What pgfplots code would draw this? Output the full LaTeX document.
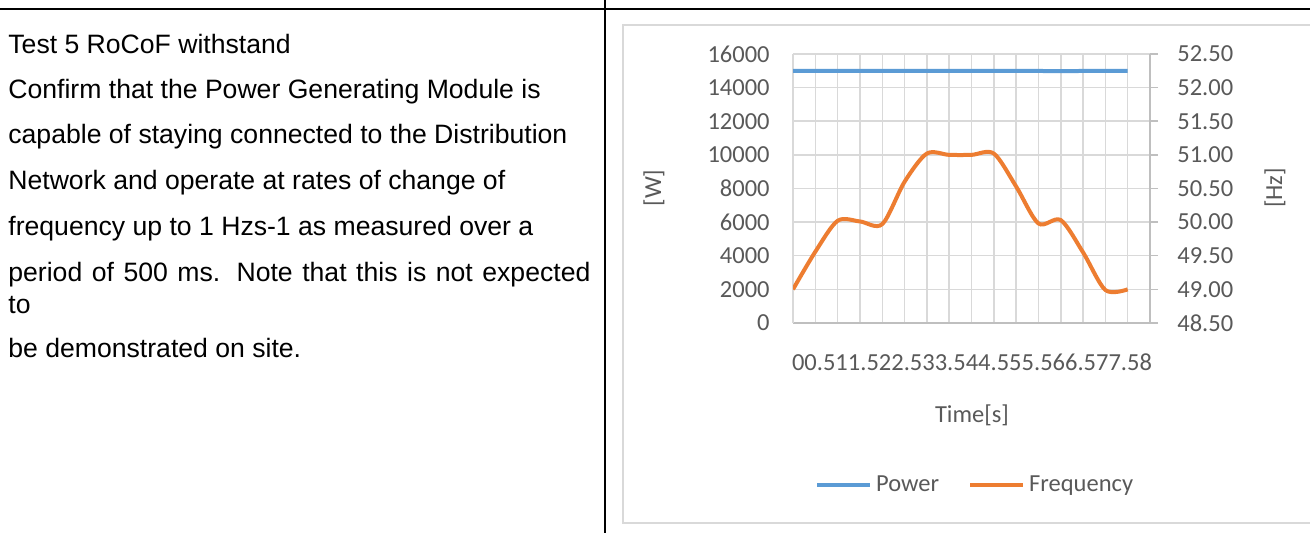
\documentclass[border=0pt]{standalone}
\usepackage{fontspec}
\setmainfont{Liberation Sans}
\newfontfamily\chartfont{Carlito}
\usepackage{pgfplots}
\pgfplotsset{compat=1.18}
\definecolor{cblue}{HTML}{5B9BD5}
\definecolor{corange}{HTML}{ED7D31}
\definecolor{cgrid}{HTML}{D9D9D9}
\definecolor{caxis}{HTML}{BFBFBF}
\definecolor{ctext}{HTML}{595959}
\newcommand{\cf}{\chartfont\fontsize{12.25pt}{14pt}\selectfont}
\newcommand{\lf}{\fontsize{13.3pt}{16pt}\selectfont}
\begin{document}
\begin{tikzpicture}
\useasboundingbox (0,0) rectangle (655pt,266.5pt);
\begin{scope}[x=0.5pt,y=-0.5pt,shift={(0,266.5pt)}]
\draw[line width=1pt] (0,9) -- (1310,9);
\draw[line width=1pt] (605,0) -- (605,533);
\draw[cgrid, line width=0.75pt] (623,25) rectangle (1340,523);
\node[anchor=base west, inner sep=0pt, font=\lf] at (8,53.5) {Test 5 RoCoF withstand};
\node[anchor=base west, inner sep=0pt, font=\lf] at (8,98.5) {Confirm that the Power Generating Module is};
\node[anchor=base west, inner sep=0pt, font=\lf] at (8,144) {capable of staying connected to the Distribution};
\node[anchor=base west, inner sep=0pt, font=\lf] at (8,190) {Network and operate at rates of change of};
\node[anchor=base west, inner sep=0pt, font=\lf] at (8,235.5) {frequency up to 1 Hzs-1 as measured over a};
\node[anchor=base west, inner sep=0pt, font=\lf] at (8,281.5) {\makebox[291pt][s]{period of 500 ms. Note that this is not expected}};
\node[anchor=base west, inner sep=0pt, font=\lf] at (8,314) {to};
\node[anchor=base west, inner sep=0pt, font=\lf] at (8,358) {be demonstrated on site.};
\node[font=\cf, text=ctext] at (972,362) {00.511.522.533.544.555.566.577.58};
\node[font=\cf, text=ctext] at (972,415) {Time[s]};
\node[font=\cf, text=ctext, rotate=90] at (654,188) {[W]};
\node[font=\cf, text=ctext, rotate=90] at (1275,188) {[Hz]};
\end{scope}
\begin{axis}[
  at={(396.5pt,105pt)}, anchor=south west,
  scale only axis, width=178.5pt, height=134.5pt,
  xmin=0, xmax=8, ymin=0, ymax=16000,
  xtick={0,0.5,...,8}, xticklabels={},
  ytick={0,2000,...,16000},
  grid=major, grid style={cgrid, line width=0.75pt},
  axis x line=bottom, axis y line=left,
  x axis line style={caxis, line width=0.75pt, -},
  y axis line style={cgrid, line width=0.75pt, -},
  major tick length=0pt, tick style={draw=none},
  scaled y ticks=false,
  /pgf/number format/assume math mode=true,
  /pgf/number format/1000 sep={},
  yticklabel style={font=\cf, text=ctext, inner sep=0pt, xshift=-11.5pt},
]
\addplot[cblue, line width=2pt] coordinates {
(0,15000) (0.5,15000) (1,15000) (1.5,15000) (2,15000) (2.5,15000) (3,15000) (3.5,15000)
(4,15000) (4.5,15000) (5,15000) (5.5,14990) (6,14980) (6.5,14990) (7,15000) (7.5,15000)};
\end{axis}
\begin{axis}[
  at={(396.5pt,105pt)}, anchor=south west,
  scale only axis, width=178.5pt, height=134.5pt,
  xmin=0, xmax=8, ymin=48.5, ymax=52.5,
  axis x line=none, axis y line=right,
  y axis line style={caxis, line width=0.75pt, -},
  ytick={48.5,49,...,52.5},
  tick align=outside, major tick length=4pt,
  ytick style={caxis, line width=0.75pt},
  /pgf/number format/assume math mode=true,
  yticklabel style={font=\cf, text=ctext, inner sep=0pt, xshift=9.5pt,
    /pgf/number format/.cd, fixed, fixed zerofill, precision=2},
  legend style={at={(0.513,-0.602)}, anchor=center, draw=none, fill=none,
    font=\cf, text=ctext, legend columns=2,
    /tikz/every even column/.append style={column sep=12.5pt}},
  legend image code/.code={\draw[#1] (0pt,0pt) -- (26.5pt,0pt);},
]
\addlegendimage{cblue, line width=2pt}
\addlegendentry{Power}
\addplot[corange, line width=2pt, smooth] coordinates {
(0,49.0) (0.5,49.56) (1,50.02) (1.5,50.01) (2,49.97) (2.5,50.60) (3,51.02) (3.5,51.0)
(4,51.0) (4.5,51.02) (5,50.53) (5.5,49.98) (6,50.03) (6.5,49.55) (7,48.99) (7.5,49.0)};
\addlegendentry{Frequency}
\end{axis}
\end{tikzpicture}
\end{document}
